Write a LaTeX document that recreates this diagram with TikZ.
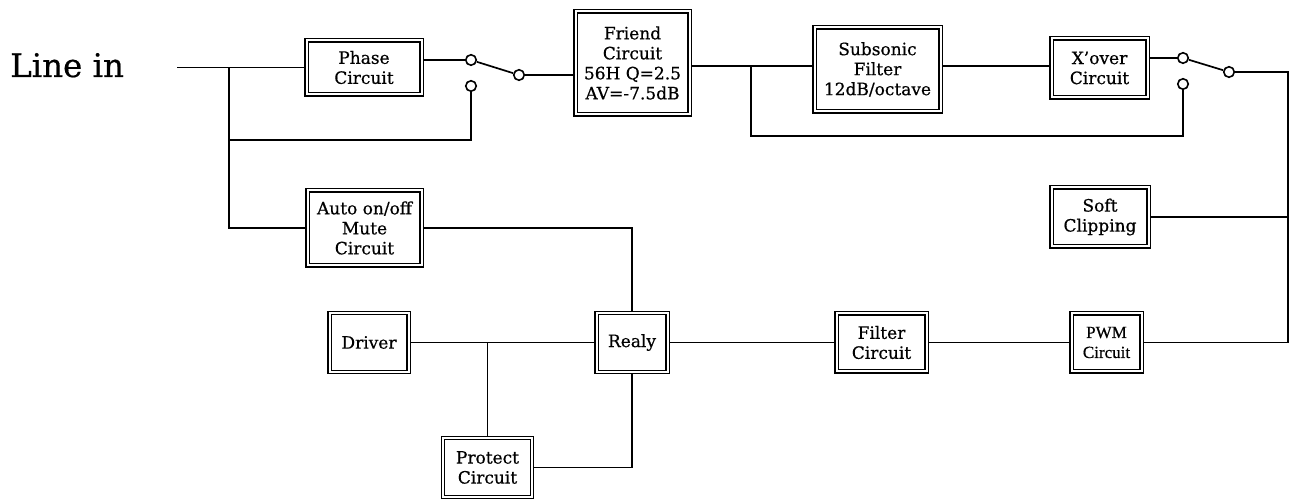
\documentclass[tikz,border=0pt]{standalone}
\usepackage{fontspec}
\setmainfont{DejaVu Serif}[FakeBold=0.6]
\newfontfamily\pwmfont{Liberation Serif}[FakeBold=0.6]
\begin{document}
\begin{tikzpicture}[x=1pt,y=-1pt,
  box/.style={draw, double, double distance=2pt, line width=1.4pt, align=center,
    inner sep=0pt, outer sep=2.4pt, font=\fontsize{17}{20}\selectfont},
  wire/.style={line width=1.7pt},
  term/.style={circle, draw, fill=white, line width=1.6pt, minimum size=10.5pt, inner sep=0pt}]
\useasboundingbox (0,0) rectangle (1293,502);

\node[anchor=base west, font=\fontsize{32.5}{36}\selectfont, inner sep=0pt] (linein) at (10,77) {Line in};

\node[box, minimum width=115pt, minimum height=54pt] (phase) at (364,67.5) {Phase\\Circuit};
\node[box, minimum width=114pt, minimum height=103pt] (friend) at (632.5,63) {\raisebox{0pt}{}Friend\\Circuit\\56H Q=2.5\\AV=-7.5dB};
\node[box, minimum width=126pt, minimum height=84pt] (sub) at (877.5,69.5) {Subsonic\\Filter\\12dB/octave};
\node[box, minimum width=96pt, minimum height=59pt] (xover) at (1099.5,68) {X'over\\Circuit};
\node[box, minimum width=114pt, minimum height=75pt] (auto) at (364.5,228) {Auto on/off\\Mute\\Circuit};
\node[box, minimum width=97pt, minimum height=59pt] (soft) at (1100,217) {Soft\\Clipping};
\node[box, minimum width=79pt, minimum height=59pt] (driver) at (369,342.5) {Driver};
\node[box, minimum width=71pt, minimum height=59pt] (realy) at (632,342.5) {Realy};
\node[box, minimum width=89pt, minimum height=59pt] (protect) at (487.5,467.5) {Protect\\Circuit};
\node[box, minimum width=90pt, minimum height=58pt] (filter) at (881.5,342.5) {Filter\\Circuit};
\node[box, minimum width=70pt, minimum height=58pt, font=\pwmfont\fontsize{17}{20}\selectfont] (pwm) at (1106.5,342.5) {PWM\\Circuit};

\coordinate (lin) at (177,67.5);
\coordinate (j1) at (229,67.5);
\coordinate (j1b) at (229,140);
\node[term] (s1p) at (471,60) {};
\node[term] (s1t) at (519,75) {};
\node[term] (s1l) at (471,86) {};
\coordinate (j2) at (751,66);
\coordinate (j2b) at (751,136);
\coordinate (k) at (1000,66);
\node[term] (s2p) at (1183,58) {};
\node[term] (s2t) at (1229,72) {};
\node[term] (s2l) at (1183,84) {};
\coordinate (r1) at (1288,72);
\coordinate (r2) at (1288,342.5);
\coordinate (j3) at (487.5,342.5);

\draw[wire] (lin) -- (phase.west);
\draw[wire] (j1) |- (auto.west);
\draw[wire] (j1b) -| (s1l.south);
\draw[wire] (phase.east |- s1p) -- (s1p);
\draw[wire] (s1p) -- (s1t);
\draw[wire] (s1t) -- (friend.west |- s1t);
\draw[wire] (friend.east |- j2) -- (sub.west |- j2);
\draw[wire] (j2) -- (j2b) -| (s2l.south);
\draw[wire] (sub.east |- k) -- (xover.west |- k);
\draw[wire] (xover.east |- s2p) -- (s2p);
\draw[wire] (s2p) -- (s2t);
\draw[wire] (s2t) -- (r1) -- (r2) -- (pwm.east);
\draw[wire] (soft.east) -- (soft.east -| r1);
\draw[wire] (pwm.west) -- (filter.east);
\draw[wire] (filter.west) -- (realy.east);
\draw[wire] (driver.east) -- (realy.west);
\draw[wire] (j3) -- (protect.north);
\draw[wire] (protect.east) -| (realy.south);
\draw[wire] (auto.east) -| (realy.north);
\end{tikzpicture}
\end{document}
